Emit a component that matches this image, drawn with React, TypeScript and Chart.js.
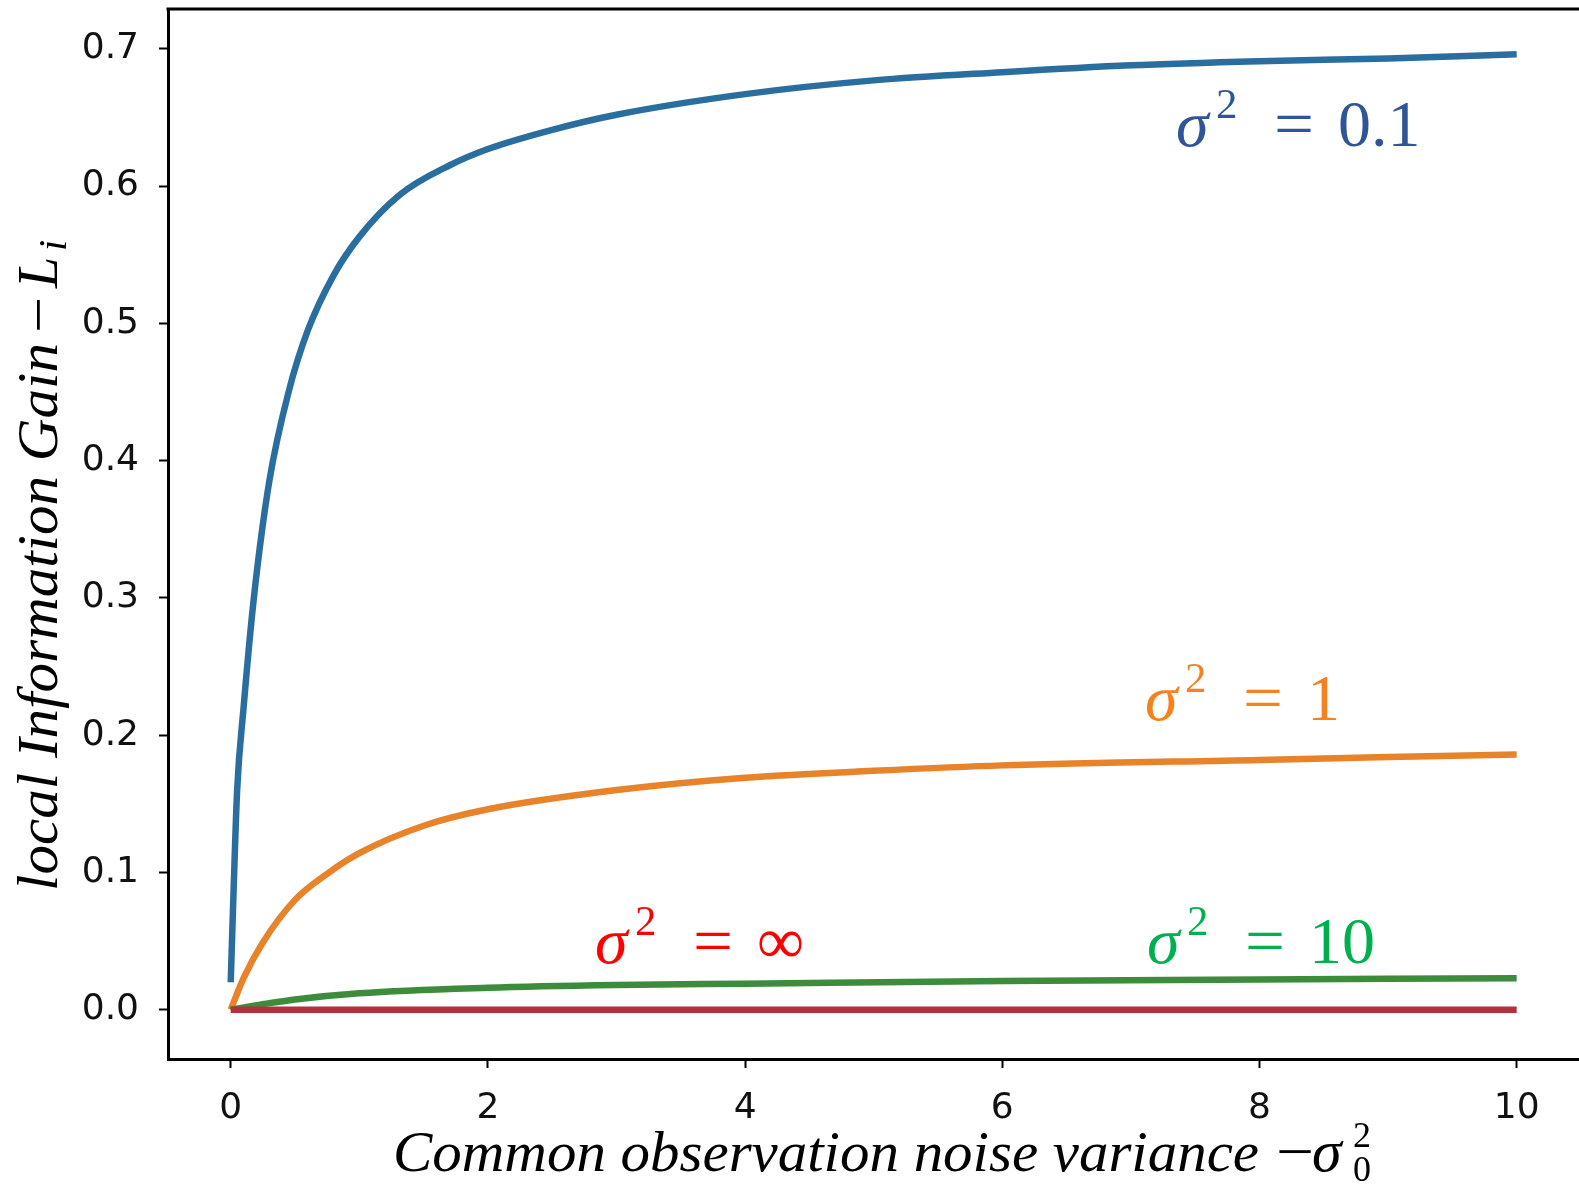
import React, { useEffect, useRef } from "react";
import { Chart, registerables } from "chart.js";

Chart.register(...registerables);

// ---- data ----
const blueX = [0, 0.02, 0.05, 0.1, 0.18, 0.3, 0.45, 0.6, 0.8, 1.0, 1.32, 1.7, 2, 2.5, 3, 4, 5, 6, 7, 8, 9, 10];
const blueY = [0.02, 0.08, 0.16, 0.22, 0.3, 0.385, 0.45, 0.495, 0.535, 0.563, 0.594, 0.615, 0.627, 0.641, 0.652, 0.667, 0.677, 0.683, 0.688, 0.691, 0.693, 0.696];

const orangeX = [0, 0.1, 0.25, 0.5, 0.75, 1, 1.5, 2, 3, 4, 5, 6, 8, 10];
const orangeY = [0, 0.023, 0.049, 0.08, 0.099, 0.114, 0.134, 0.146, 0.16, 0.169, 0.174, 0.178, 0.182, 0.186];

const greenX = [0, 0.25, 0.5, 1, 2, 3, 4, 6, 8, 10];
const greenY = [0, 0.004, 0.0075, 0.012, 0.016, 0.018, 0.019, 0.021, 0.022, 0.023];

const redX = [0, 10];
const redY = [0, 0];

const xTickValues = [0, 2, 4, 6, 8, 10];
const yTickValues = [0, 0.1, 0.2, 0.3, 0.4, 0.5, 0.6, 0.7];

const X_MIN = -0.4877;
const X_MAX = 10.648;
const Y_MIN = -0.0359;
const Y_MAX = 0.729;

const labels = [
  { value: "0.1", color: "#2F5597", x: 1176, y: 146 },
  { value: "1", color: "#F5821F", x: 1145, y: 720 },
  { value: "\u221E", color: "#FF0000", x: 595, y: 963 },
  { value: "10", color: "#00B050", x: 1147, y: 963 },
];

const SERIF = "'Liberation Serif', 'DejaVu Serif', serif";

const toPts = (xs: number[], ys: number[]) => xs.map((x, i) => ({ x, y: ys[i] }));

function drawFitted(ctx: CanvasRenderingContext2D, text: string, x: number, y: number, width: number) {
  const w = ctx.measureText(text).width;
  ctx.save();
  ctx.translate(x, y);
  ctx.scale(width / w, 1);
  ctx.fillText(text, 0, 0);
  ctx.restore();
}

const decorPlugin = {
  id: "decor",
  afterDraw(chart: any) {
    const ctx: CanvasRenderingContext2D = chart.ctx;
    const a = chart.chartArea;
    ctx.save();
    // top frame line
    ctx.strokeStyle = "#000";
    ctx.lineWidth = 3;
    ctx.beginPath();
    ctx.moveTo(a.left - 1.5, a.top);
    ctx.lineTo(a.right, a.top);
    ctx.stroke();

    ctx.textBaseline = "alphabetic";
    ctx.textAlign = "left";

    // curve labels
    for (const l of labels) {
      ctx.fillStyle = l.color;
      ctx.font = `italic 66px ${SERIF}`;
      ctx.fillText("\u03C3", l.x, l.y);
      ctx.font = `43px ${SERIF}`;
      ctx.fillText("2", l.x + 40, l.y - 28);
      ctx.font = `66px ${SERIF}`;
      drawFitted(ctx, "=", l.x + 98, l.y, 40);
      ctx.fillText(l.value, l.x + 162, l.y);
    }

    // x title
    ctx.fillStyle = "#000";
    ctx.font = `italic 58px ${SERIF}`;
    drawFitted(ctx, "Common observation noise variance", 393, 1171, 866);
    ctx.font = `58px ${SERIF}`;
    drawFitted(ctx, "\u2212", 1276, 1171, 38);
    ctx.font = `italic 60px ${SERIF}`;
    ctx.fillText("\u03C3", 1312, 1171);
    ctx.font = `36px ${SERIF}`;
    ctx.fillText("2", 1353, 1147);
    ctx.fillText("0", 1353, 1181);

    // y title (rotated)
    ctx.save();
    ctx.translate(57, 891);
    ctx.rotate(-Math.PI / 2);
    ctx.font = `italic 56px ${SERIF}`;
    drawFitted(ctx, "local Information Gain", 0, 0, 548);
    ctx.font = `56px ${SERIF}`;
    drawFitted(ctx, "\u2212", 558, 0, 36);
    ctx.font = `italic 56px ${SERIF}`;
    ctx.fillText("L", 603, 0);
    ctx.font = `italic 40px ${SERIF}`;
    ctx.fillText("i", 640, 9);
    ctx.restore();

    ctx.restore();
  },
};

export default function App() {
  const ref = useRef<HTMLCanvasElement | null>(null);

  useEffect(() => {
    if (!ref.current) return;
    const lineCommon = { borderWidth: 6.5, pointRadius: 0, fill: false, cubicInterpolationMode: "monotone" as const, borderCapStyle: "butt" as const };
    const zeroPad = (s: any) => {
      s.paddingTop = 0;
      s.paddingBottom = 0;
      s.paddingLeft = 0;
      s.paddingRight = 0;
    };
    const chart = new Chart(ref.current, {
      type: "line",
      data: {
        datasets: [
          { label: "inf", data: toPts(redX, redY), borderColor: "#B3303C", ...lineCommon },
          { label: "10", data: toPts(greenX, greenY), borderColor: "#3C8C3C", ...lineCommon },
          { label: "1", data: toPts(orangeX, orangeY), borderColor: "#E8832A", ...lineCommon },
          { label: "0.1", data: toPts(blueX, blueY), borderColor: "#2A6EA0", ...lineCommon },
        ],
      },
      options: {
        animation: false,
        responsive: false,
        devicePixelRatio: 1,
        layout: { padding: { top: 9, left: 0, right: 0, bottom: 0 } },
        plugins: { legend: { display: false }, tooltip: { enabled: false } },
        scales: {
          x: {
            type: "linear",
            min: X_MIN,
            max: X_MAX,
            afterBuildTicks: (s: any) => {
              s.ticks = xTickValues.map((v) => ({ value: v }));
            },
            afterFit: (s: any) => {
              s.height = 126;
              zeroPad(s);
            },
            ticks: {
              font: { family: "'DejaVu Sans'", size: 36 },
              color: "#111",
              padding: 19,
              maxRotation: 0,
              autoSkip: false,
              callback: (v: any) => String(v),
            },
            grid: { display: true, drawOnChartArea: false, drawTicks: true, tickLength: 9, tickWidth: 2, tickColor: "#000" },
            border: { display: true, color: "#000", width: 3 },
          },
          y: {
            type: "linear",
            min: Y_MIN,
            max: Y_MAX,
            afterBuildTicks: (s: any) => {
              s.ticks = yTickValues.map((v) => ({ value: v }));
            },
            afterFit: (s: any) => {
              s.width = 168;
              zeroPad(s);
            },
            ticks: {
              font: { family: "'DejaVu Sans'", size: 36 },
              color: "#111",
              padding: 20,
              autoSkip: false,
              callback: (v: any) => Number(v).toFixed(1),
            },
            grid: { display: true, drawOnChartArea: false, drawTicks: true, tickLength: 9, tickWidth: 2, tickColor: "#000" },
            border: { display: true, color: "#000", width: 3 },
          },
        },
      },
      plugins: [decorPlugin],
    });
    return () => chart.destroy();
  }, []);

  return (
    <div style={{ position: "absolute", left: 0, top: 0, width: 1579, height: 1185, overflow: "hidden", background: "#fff" }}>
      <canvas ref={ref} width={1600} height={1185} style={{ display: "block" }} />
    </div>
  );
}
